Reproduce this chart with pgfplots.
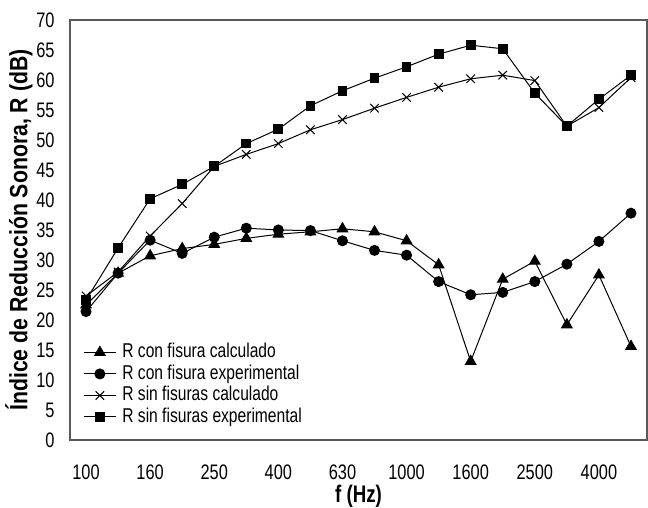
\documentclass[border=0pt]{standalone}
\usepackage{fontspec}
\setmainfont[FakeStretch=0.78]{Liberation Sans}
\newfontfamily\labfont[FakeStretch=0.85]{Liberation Sans}
\usepackage{pgfplots}
\pgfplotsset{compat=1.18}
\begin{document}
\begin{tikzpicture}[font=\fontsize{10.5}{12.6}\selectfont]
\begin{axis}[name=ax,
  width=288.5pt, height=210pt, scale only axis,
  xmin=-0.5, xmax=17.5, ymin=0, ymax=70,
  xtick={0,2,4,6,8,10,12,14,16},
  xticklabels={100,160,250,400,630,1000,1600,2500,4000},
  ytick={0,5,...,70},
  major tick length=0pt,
  axis line style={black!65, line width=0.6pt},
  /pgf/number format/assume math mode=true,
  yticklabel style={inner sep=0pt, anchor=east, xshift=-7.5pt},
  xticklabel style={inner sep=0pt, anchor=north, yshift=-12pt},
  xlabel={\fontsize{12}{14}\selectfont\bfseries f (Hz)},
  ylabel={\labfont\fontsize{12.5}{15}\selectfont\bfseries Índice de Reducción Sonora, R (dB)},
  xlabel style={at={(axis description cs:0.5,-0.133)}, anchor=center, inner sep=0pt},
  ylabel style={at={(axis description cs:-0.0885,0.50)}, anchor=center, inner sep=0pt},
  legend style={at={(0.0225,0.232)}, anchor=north west, draw=none, fill=none,
    row sep=1.25pt, inner sep=0pt, nodes={inner xsep=3pt, inner ysep=0pt, text height=7.5pt, text depth=2pt},
    font=\fontsize{10}{12}\selectfont},
  legend cell align=left,
  legend image code/.code={\draw[mark repeat=2,mark phase=2,#1] plot coordinates {(0pt,0pt)(8pt,0pt)(16pt,0pt)};},
  every axis plot/.append style={black, line width=0.5pt},
]
\addplot[mark=triangle*, mark size=3pt] coordinates {
(0,22.5)(1,27.8)(2,30.7)(3,31.9)(4,32.6)(5,33.6)(6,34.3)(7,34.7)(8,35.2)(9,34.7)
(10,33.2)(11,29.2)(12,13.1)(13,26.8)(14,29.8)(15,19.2)(16,27.5)(17,15.6)};
\addlegendentry{R con fisura calculado}
\addplot[mark=*, mark size=2.5pt] coordinates {
(0,21.4)(1,27.8)(2,33.3)(3,31.1)(4,33.8)(5,35.3)(6,35.0)(7,34.9)(8,33.2)(9,31.6)
(10,30.8)(11,26.4)(12,24.2)(13,24.6)(14,26.4)(15,29.3)(16,33.1)(17,37.8)};
\addlegendentry{R con fisura experimental}
\addplot[mark=x, mark size=3pt] coordinates {
(0,24.0)(1,28.0)(2,34.0)(3,39.4)(4,45.6)(5,47.6)(6,49.4)(7,51.7)(8,53.4)(9,55.3)
(10,57.1)(11,58.8)(12,60.2)(13,60.8)(14,59.9)(15,52.3)(16,55.4)(17,60.4)};
\addlegendentry{R sin fisuras calculado}
\addplot[mark=square*, mark size=2.2pt] coordinates {
(0,23.3)(1,32.0)(2,40.2)(3,42.6)(4,45.6)(5,49.4)(6,51.8)(7,55.7)(8,58.2)(9,60.3)
(10,62.2)(11,64.3)(12,65.8)(13,65.2)(14,57.8)(15,52.3)(16,56.8)(17,60.8)};
\addlegendentry{R sin fisuras experimental}
\end{axis}
\pgfresetboundingbox
\path[use as bounding box] ([shift={(-35pt,-34pt)}]ax.south west) rectangle ([shift={(0.5pt,10pt)}]ax.north east);
\end{tikzpicture}
\end{document}
